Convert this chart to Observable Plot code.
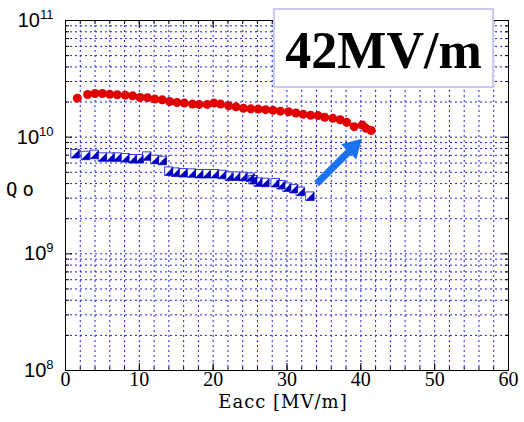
<!DOCTYPE html>
<html><head><meta charset="utf-8">
<script src="https://cdn.jsdelivr.net/npm/d3@7"></script>
<script src="https://cdn.jsdelivr.net/npm/@observablehq/plot@0.6"></script>
<style>
body{margin:0;background:#fff;}
#wrap{position:relative;width:524px;height:422px;overflow:hidden;}
#note{position:absolute;left:273px;top:8px;width:221px;height:80px;box-sizing:border-box;border:2px solid #c9c9f2;background:#fff;display:flex;align-items:center;justify-content:center;font:bold 52px "Liberation Serif";color:#000;padding-top:4px;}
</style></head>
<body><div id="wrap"><div id="chart"></div><div id="note">42MV/m</div></div>
<script>
// Red series (after treatment)
const redE = [1.6,3.0,4.0,5.0,6.0,7.0,8.1,9.1,10.1,11.1,12.1,13.1,14.1,15.1,16.1,17.2,18.1,19.2,20.1,21.0,22.1,23.1,24.1,25.1,26.1,27.1,28.1,29.1,30.2,31.2,32.2,33.2,34.2,35.1,36.2,37.2,38.1,39.1,40.2,40.7,41.4];
const redQ = [2.16e10,2.32e10,2.37e10,2.37e10,2.33e10,2.31e10,2.29e10,2.26e10,2.19e10,2.18e10,2.12e10,2.09e10,2.02e10,1.98e10,1.96e10,1.92e10,1.91e10,1.91e10,1.96e10,1.92e10,1.86e10,1.82e10,1.77e10,1.75e10,1.74e10,1.72e10,1.70e10,1.67e10,1.65e10,1.61e10,1.57e10,1.54e10,1.53e10,1.48e10,1.45e10,1.41e10,1.34e10,1.23e10,1.27e10,1.19e10,1.14e10];
// Blue series (before treatment)
const blueE = [1.3,2.7,3.9,5.0,6.1,7.0,8.1,9.1,10.0,11.0,12.1,13.1,14.0,14.9,15.9,17.1,18.1,19.1,20.2,21.2,22.2,23.1,24.1,25.0,25.4,26.1,27.0,28.4,29.2,30.0,30.9,31.8,33.1];
const blueQ = [7.21e9,6.97e9,7.11e9,6.75e9,6.75e9,6.75e9,6.66e9,6.53e9,6.53e9,6.88e9,6.44e9,6.31e9,5.11e9,5.01e9,4.95e9,4.92e9,4.86e9,4.86e9,4.86e9,4.79e9,4.63e9,4.63e9,4.60e9,4.54e9,4.32e9,4.12e9,4.09e9,4.07e9,3.91e9,3.73e9,3.62e9,3.43e9,3.12e9];
// Annotation arrow (tail, head centre)
const arrowE = [34.0, 38.95];
const arrowQ = [3.99e9, 8.15e9];
// Ticks
const xTicks = [0,10,20,30,40,50,60];
const xMinor = [2,4,6,8,10,12,14,16,18,20,22,24,26,28,30,32,34,36,38,40,42,44,46,48,50,52,54,56,58];
const yTicks = [1e8,1e9,1e10,1e11];
const yMinor = [2e8,3e8,4e8,5e8,6e8,7e8,8e8,9e8,2e9,3e9,4e9,5e9,6e9,7e9,8e9,9e9,2e10,3e10,4e10,5e10,6e10,7e10,8e10,9e10];
const yLabel = "Qo";
const xLabel = "Eacc [MV/m]";

const red = redE.map((e,i)=>({E:e,Q:redQ[i]}));
const blue = blueE.map((e,i)=>({E:e,Q:blueQ[i]}));
const arrow = [{x1:arrowE[0],y1:arrowQ[0],x2:arrowE[1],y2:arrowQ[1]}];
const lowerRight = {draw(ctx,size){const s=Math.sqrt(size)/2;ctx.moveTo(s,-s);ctx.lineTo(s,s);ctx.lineTo(-s,s);ctx.closePath();}};
const gridColor = "#1e1ed8";

const plot = Plot.plot({
  width: 524, height: 422,
  marginLeft: 65, marginRight: 16, marginTop: 20, marginBottom: 52,
  style: {background:"white", color:"black", overflow:"visible"},
  x: {domain:[0,60], label:null},
  y: {type:"log", domain:[1e8,1e11], label:null},
  marks: [
    Plot.gridX(xMinor, {stroke:gridColor, strokeOpacity:1, strokeDasharray:"2,3"}),
    Plot.gridY(yMinor, {stroke:gridColor, strokeOpacity:1, strokeDasharray:"2,3"}),
    Plot.gridY(yTicks, {stroke:gridColor, strokeOpacity:1, strokeDasharray:"2,3"}),
    Plot.frame({stroke:"black"}),
    Plot.axisY(yTicks, {anchor:"left", tickSize:0, tickPadding:12, label:null, tickFormat:d=>String(Math.round(Math.log10(d))), fontSize:20, fontFamily:"Liberation Sans"}),
    Plot.axisY(yTicks, {anchor:"left", tickSize:-7, fill:"none", label:null}),
    Plot.axisY(yMinor, {anchor:"left", tickSize:-4, fill:"none", label:null}),
    Plot.axisY(yTicks, {anchor:"right", tickSize:-7, fill:"none", label:null}),
    Plot.axisY(yMinor, {anchor:"right", tickSize:-4, fill:"none", label:null}),
    Plot.axisX(xTicks, {anchor:"bottom", tickSize:0, tickPadding:1, label:null, fontSize:20, fontFamily:"Liberation Serif"}),
    Plot.axisX(xTicks, {anchor:"bottom", tickSize:-7, fill:"none", label:null}),
    Plot.axisX(xMinor, {anchor:"bottom", tickSize:-3, fill:"none", label:null}),
    Plot.axisX(xTicks, {anchor:"top", tickSize:-7, fill:"none", label:null}),
    Plot.axisX(xMinor, {anchor:"top", tickSize:-3, fill:"none", label:null}),
    Plot.text([yLabel], {frameAnchor:"left", dx:-43, dy:-6, text:d=>d, fontSize:19, fontFamily:"DejaVu Sans Mono", textAnchor:"middle"}),
    Plot.text([xLabel], {frameAnchor:"bottom", dx:-4, dy:37, text:d=>d, fontSize:18, fontFamily:"DejaVu Serif", textAnchor:"middle"}),
    Plot.dot(blue, {x:"E", y:"Q", symbol:"square", r:4.8, fill:"white", stroke:"#3c3ce6", strokeWidth:1}),
    Plot.dot(blue, {x:"E", y:"Q", symbol:lowerRight, r:4.8, fill:"#0000c0"}),
    Plot.dot(red, {x:"E", y:"Q", r:4.5, fill:"#e00000"}),
    Plot.link(arrow, {x1:"x1", y1:"y1", x2:"x2", y2:"y2", stroke:"#1a72f0", strokeWidth:7}),
    Plot.dot([arrow[0]], {x:"x2", y:"y2", symbol:"triangle", r:8, rotate:45, fill:"#1a72f0"})
  ]
});
document.getElementById("chart").append(plot);
const svg = d3.select(plot);
svg.selectAll('g[aria-label="y-axis tick label"] text').each(function(){
  const t = d3.select(this); const e = t.text();
  t.text("10");
  t.append("tspan").attr("dy","-0.62em").attr("font-size","13px").text(e);
});
svg.selectAll('g[aria-label="text"] text').each(function(){
  const t = d3.select(this);
  if (t.text() === yLabel) t.style("letter-spacing","5px");
  if (t.text() === xLabel) t.style("letter-spacing","1px");
});
</script>
</body></html>
